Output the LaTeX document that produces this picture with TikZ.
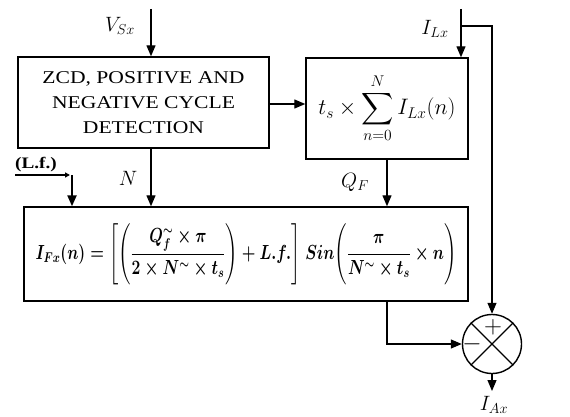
\documentclass[tikz,border=0pt]{standalone}
\usepackage{amsmath}
\usepackage{graphicx}
\usepackage{fontspec}
\setmainfont{Liberation Serif}[FakeStretch=1.2]
\usetikzlibrary{arrows.meta}
\newsavebox{\formbox}
\newsavebox{\sumbox}
\begin{document}
\sbox{\formbox}{\scalebox{1}[1.3]{\resizebox{421pt}{!}{\fontsize{17.28}{20}\selectfont\boldmath$\displaystyle I_{Fx}(n)=\Biggl[\Biggl(\frac{Q_f^{\sim}\times\pi}{2\times N^{\sim}\times t_s}\Biggr)+L.f.\Biggr]\;Sin\Biggl(\frac{\pi}{N^{\sim}\times t_s}\times n\Biggr)$}}}%
\sbox{\sumbox}{\scalebox{1.08}{\fontsize{20.74}{24}\selectfont$\displaystyle t_s\times\sum_{n=0}^{N} I_{Lx}(n)$}}%
\begin{tikzpicture}[x=1pt,y=-1pt, line width=1.2pt, >={Triangle[length=11pt,width=9pt]}]
\tikzset{blk/.style={draw, line width=1.4pt, inner sep=0pt},
  lbl/.style={font=\fontsize{20.74}{22}\selectfont}}
\useasboundingbox (0,0) rectangle (570,417);
\node[blk, minimum width=251, minimum height=91, align=center, font=\fontsize{18}{25}\selectfont] (zcd) at (143.5,102.5) {ZCD, POSITIVE AND\\NEGATIVE CYCLE\\DETECTION};
\node[blk, minimum width=162, minimum height=101] (sum) at (387,108.5) {\usebox{\sumbox}};
\node[blk, minimum width=444, minimum height=94] (frm) at (246,254) {\usebox{\formbox}};
\node[draw, circle, minimum size=59, inner sep=0pt, line width=1.4pt] (sj) at (492,344) {};
\draw (sj.north west) -- (sj.south east);
\draw (sj.north east) -- (sj.south west);
\node[font=\fontsize{24.88}{26}\selectfont, inner sep=0pt] (plus) at (493,327) {$+$};
\node[font=\fontsize{24.88}{26}\selectfont, inner sep=0pt] (minus) at (472,344) {$-$};
% inputs
\coordinate (vin) at (151,9);
\node[lbl] (vl) at (120,26) {$V_{Sx}$};
\draw[->] (vin) -- (vin |- zcd.north);
\coordinate (iin) at (461,9);
\node[lbl] (il) at (435,29) {$I_{Lx}$};
\draw[->] (iin) -- (iin |- sum.north);
\coordinate (br) at (461,26);
\draw[->] (br) -- (br -| sj) -- (sj.north);
% zcd to sum
\coordinate (zs) at (0,104);
\draw[->] (zs -| zcd.east) -- (zs -| sum.west);
% N
\draw[->] (zcd.south -| vin) -- (frm.north -| vin);
\node[lbl] (nl) at (128,178) {$N$};
% Q_F
\draw[->] (sum.south) -- (sum.south |- frm.north);
\node[lbl] (ql) at (355,182) {$Q_F$};
% L.f.
\node[font=\bfseries\fontsize{16}{18}\selectfont, inner sep=0pt] (lf) at (36,166) {\underline{(L.f.)}};
\coordinate (lfa) at (15,175);
\coordinate (lfb) at (70,175);
\coordinate (lfc) at (72,175);
\draw[line width=1.8pt, -{Triangle[length=5pt,width=5pt]}] (lfa) -- (lfb);
\draw[line width=2.2pt, ->] (lfc) -- (lfc |- frm.north);
% output of formula box to sum junction
\draw[->] (frm.south -| sum.south) -- (sum.south |- sj.west) -- (sj.west);
% output
\coordinate (out) at (492,391);
\draw[->] (sj.south) -- (out);
\node[lbl] (al) at (494,405) {$I_{Ax}$};
\end{tikzpicture}
\end{document}
